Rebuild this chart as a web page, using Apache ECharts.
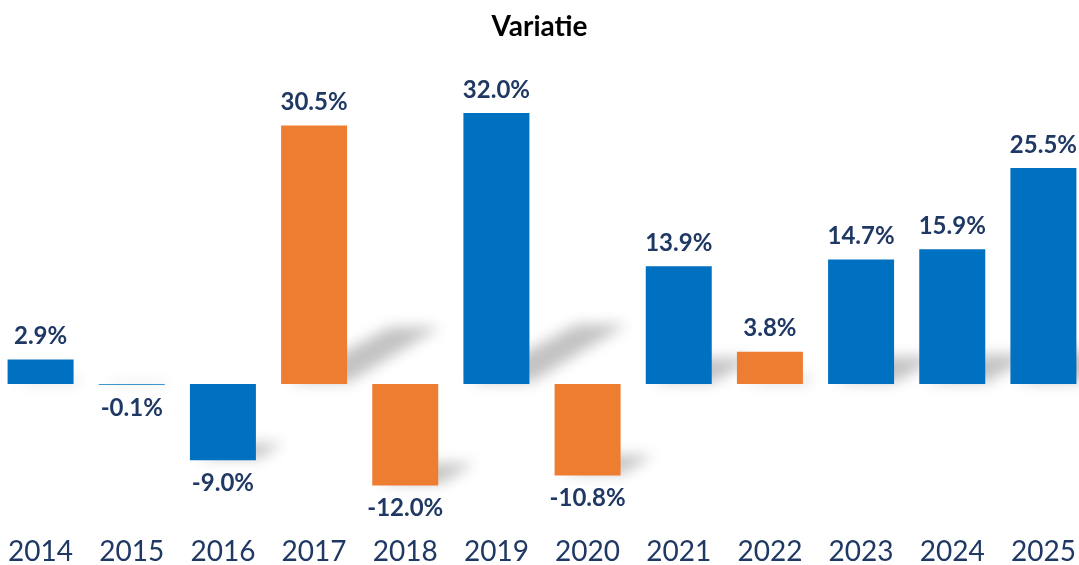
<!DOCTYPE html>
<html>
<head>
<meta charset="utf-8">
<script src="https://cdn.jsdelivr.net/npm/echarts@6/dist/echarts.min.js"></script>
<style>
  html, body { margin: 0; padding: 0; background: #fff; }
  #chart { width: 1079px; height: 565px; }
</style>
</head>
<body>
<div id="chart"></div>
<script>
// data
const years = ['2014', '2015', '2016', '2017', '2018', '2019', '2020', '2021', '2022', '2023', '2024', '2025'];
const variatie = [2.9, -0.1, -9.0, 30.5, -12.0, 32.0, -10.8, 13.9, 3.8, 14.7, 15.9, 25.5];
const barColors = ['#0070C0', '#0070C0', '#0070C0', '#ED7D31', '#ED7D31', '#0070C0', '#ED7D31', '#0070C0', '#ED7D31', '#0070C0', '#0070C0', '#0070C0'];

const BAR_W = 66;
const OFF = 3000; // draw shape off-canvas, keep only its blurred shadow
const navy = '#1F3864';
const font = 'Lato, "Open Sans", sans-serif';

let myChart = echarts.init(document.getElementById('chart'));

// soft skewed shadow behind the outer end of each bar
function renderShadow(params, api) {
  const idx = api.value(0);
  const v = api.value(1);
  const base = api.coord([idx, 0]);
  const end = api.coord([idx, v]);
  const h = Math.abs(end[1] - base[1]);
  const yLow = Math.max(base[1], end[1]);
  const x0 = base[0] - BAR_W / 2 - OFF;
  const x1 = base[0] + BAR_W / 2 - OFF;
  const dy = h * 0.22;
  const dx = h * 0.36;
  return {
    type: 'polygon',
    shape: {
      points: [[x0 + 6, yLow - 2], [x1 + 2, yLow - 2], [x1 + dx, yLow - dy], [x0 + dx + 16, yLow - dy]]
    },
    style: {
      fill: '#000',
      shadowBlur: 14,
      shadowOffsetX: OFF,
      shadowColor: 'rgba(0,0,0,0.24)'
    }
  };
}

myChart.setOption({
  animation: false,
  title: {
    text: 'Variatie',
    left: 'center',
    top: 8,
    textStyle: {
      fontFamily: font,
      fontSize: 28,
      fontWeight: 'bold',
      color: '#000'
    }
  },
  grid: {
    left: -5,
    right: -10,
    top: 87.5,
    bottom: 54,
    outerBoundsMode: 'none',
    containLabel: false
  },
  xAxis: {
    type: 'category',
    data: years,
    axisLine: {show: false, onZero: false},
    axisTick: {show: false},
    axisLabel: {
      margin: 27,
      fontFamily: font,
      fontSize: 28,
      color: navy
    }
  },
  yAxis: {
    type: 'value',
    min: -15,
    max: 35,
    show: false,
    splitLine: {show: false}
  },
  series: [{
    type: 'custom',
    renderItem: renderShadow,
    data: variatie.map((v, i) => [i, v]),
    clip: false,
    z: 1,
    silent: true
  }, {
    name: 'Variatie',
    type: 'bar',
    barWidth: BAR_W,
    z: 2,
    data: variatie.map((v, i) => ({
      value: v,
      itemStyle: {color: barColors[i]},
      label: {position: v < 0 ? 'bottom' : 'top'}
    })),
    label: {
      show: true,
      distance: 11,
      fontFamily: font,
      fontSize: 24,
      fontWeight: 'bold',
      color: navy,
      formatter: p => p.value.toFixed(1) + '%'
    }
  }]
});

window.addEventListener('resize', function() {
  myChart.resize();
});
</script>
</body>
</html>
